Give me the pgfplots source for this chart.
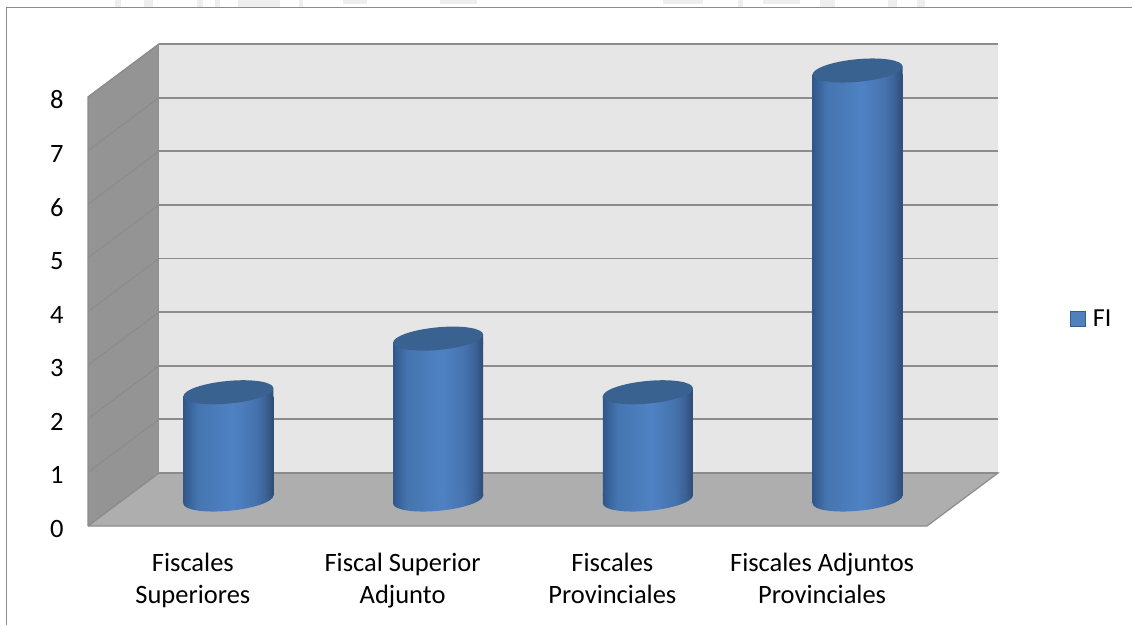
\documentclass[border=0pt]{standalone}
\usepackage{pgfplots}
\usepackage{fontspec}
\setmainfont{Carlito}
\pgfplotsset{compat=1.18}

\definecolor{wallback}{RGB}{230,230,230}
\definecolor{wallleft}{RGB}{148,148,148}
\definecolor{floorgray}{RGB}{174,174,174}
\definecolor{linegray}{RGB}{140,140,140}
\definecolor{capblue}{RGB}{58,98,144}
\definecolor{barblue}{RGB}{79,129,189}
\definecolor{bardark}{RGB}{56,93,138}
\definecolor{scrap}{RGB}{238,238,238}

% side of the cylinder, dark at both edges
\pgfdeclarehorizontalshading{cylside}{100bp}{
  rgb(0bp)=(0.19,0.34,0.54);
  rgb(25bp)=(0.19,0.34,0.54);
  rgb(29bp)=(0.23,0.40,0.62);
  rgb(33bp)=(0.27,0.46,0.69);
  rgb(52bp)=(0.31,0.51,0.77);
  rgb(65bp)=(0.27,0.45,0.68);
  rgb(70bp)=(0.24,0.39,0.60);
  rgb(75bp)=(0.18,0.30,0.46);
  rgb(100bp)=(0.18,0.30,0.46)}

\pgfdeclareplotmark{cylbase}{%
  \pgfpathellipse{\pgfpointorigin}{\pgfpoint{45pt}{4.26pt}}{\pgfpoint{-1.06pt}{11.25pt}}%
  \pgfshadepath{cylside}{0}\pgfusepath{discard}%
  \pgfpathmoveto{\pgfpoint{-45pt}{-4pt}}%
  \pgfpathlineto{\pgfpoint{45pt}{4pt}}%
  \pgfpathlineto{\pgfpoint{45pt}{6pt}}%
  \pgfpathlineto{\pgfpoint{-45pt}{6pt}}%
  \pgfpathclose
  \pgfshadepath{cylside}{0}\pgfusepath{discard}%
}
\pgfdeclareplotmark{cylcap}{%
  \pgfpathmoveto{\pgfpoint{-45pt}{-6pt}}%
  \pgfpathlineto{\pgfpoint{45pt}{-6pt}}%
  \pgfpathlineto{\pgfpoint{45pt}{4pt}}%
  \pgfpathlineto{\pgfpoint{-45pt}{-4pt}}%
  \pgfpathclose
  \pgfshadepath{cylside}{0}\pgfusepath{discard}%
  \pgfsetfillcolor{capblue}%
  \pgfpathellipse{\pgfpointorigin}{\pgfpoint{45pt}{4.26pt}}{\pgfpoint{-1.06pt}{11.25pt}}%
  \pgfusepath{fill}%
}

\begin{document}
\begin{tikzpicture}[x=1pt,y=1pt]
\useasboundingbox (0,0) rectangle (1132,625);
% watermark scraps above the frame
\foreach \a/\b in {115/121,144/153,197/203,215/220,238/280,299/303,738/743,820/835,888/897,917/925}
	\fill[scrap] (\a,618) rectangle (\b,625);
\foreach \a/\b in {343/367,440/477,663/703,763/800}
	\fill[scrap] (\a,621) rectangle (\b,625);
% chart frame
\draw[color=linegray,line width=1.4pt] (6.5,0) -- (6.5,617.5) -- (1132,617.5);

\begin{axis}[
	at={(88pt,99pt)},
	anchor=south west,
	width=839pt,
	height=429pt,
	scale only axis,
	clip=false,
	xmin=-0.5, xmax=3.5,
	ymin=0, ymax=8,
	axis line style={draw=none},
	tick style={draw=none},
	xtick={0,1,2,3},
	xticklabels={{Fiscales\\Superiores},{Fiscal Superior\\Adjunto},{Fiscales\\Provinciales},{Fiscales Adjuntos\\Provinciales}},
	ytick={0,1,2,3,4,5,6,7,8},
	/pgf/number format/assume math mode=true,
	x tick label style={align=center,font=\fontsize{26.5}{32}\selectfont,yshift=-23.5pt},
	y tick label style={font=\fontsize{26.5}{32}\selectfont,xshift=-21pt,yshift=-3pt},
	legend style={at={(1.17,0.4825)},anchor=west,draw=none,fill=none,inner sep=0pt,font=\fontsize{26}{32}\selectfont},
	legend cell align={left},
	% the bar stops 4pt short at both ends, the tilted end pieces close it
	cyl/.style={forget plot,ybar,bar width=90pt,draw=none,shading=cylside,xshift=35.5pt,yshift=30.5pt,y filter/.expression={y-0.149}},
]
% walls and floor
\addplot[forget plot,draw=linegray,line width=1.2pt,fill=wallleft] coordinates {(-0.5,0) (-0.5,8) (-0.1615,8.988) (-0.1615,0.988) (-0.5,0)};
\addplot[forget plot,draw=none,fill=wallback] coordinates {(-0.1615,0.988) (-0.1615,8.988) (3.8385,8.988) (3.8385,0.988) (-0.1615,0.988)};
\addplot[forget plot,draw=linegray,line width=1.2pt,fill=floorgray] coordinates {(-0.5,0) (3.5,0) (3.8385,0.988) (-0.1615,0.988) (-0.5,0)};
\pgfplotsinvokeforeach{1,...,8}{
	\draw[linegray,line width=1.2pt] (axis cs:-0.5,#1) -- ([shift={(71pt,53pt)}]axis cs:-0.5,#1);
}
\pgfplotsinvokeforeach{0,...,8}{
	\draw[linegray,line width=1.8pt] ([shift={(71pt,53pt)}]axis cs:-0.5,#1) -- ([shift={(71pt,53pt)}]axis cs:3.5,#1);
}
% bottom of each cylinder
\addplot[forget plot,only marks,mark=cylbase,xshift=35.5pt,yshift=26.5pt] coordinates {(0,0) (1,0) (2,0) (3,0)};
% bodies, one plot each so that every bar gets its own shading
\addplot[cyl] coordinates {(0,2)};
\addplot[cyl] coordinates {(1,3)};
\addplot[cyl] coordinates {(2,2)};
\addplot[cyl] coordinates {(3,8)};
% tops
\addplot[forget plot,only marks,mark=cylcap,xshift=35.5pt,yshift=26.5pt] coordinates {(0,2) (1,3) (2,2) (3,8)};
\addlegendimage{legend image code/.code={\draw[fill=barblue,draw=bardark,line width=1pt] (0pt,-7.5pt) rectangle (15pt,7.5pt);}}
\addlegendentry{\hspace*{5pt}FI}
\end{axis}
\end{tikzpicture}
\end{document}
